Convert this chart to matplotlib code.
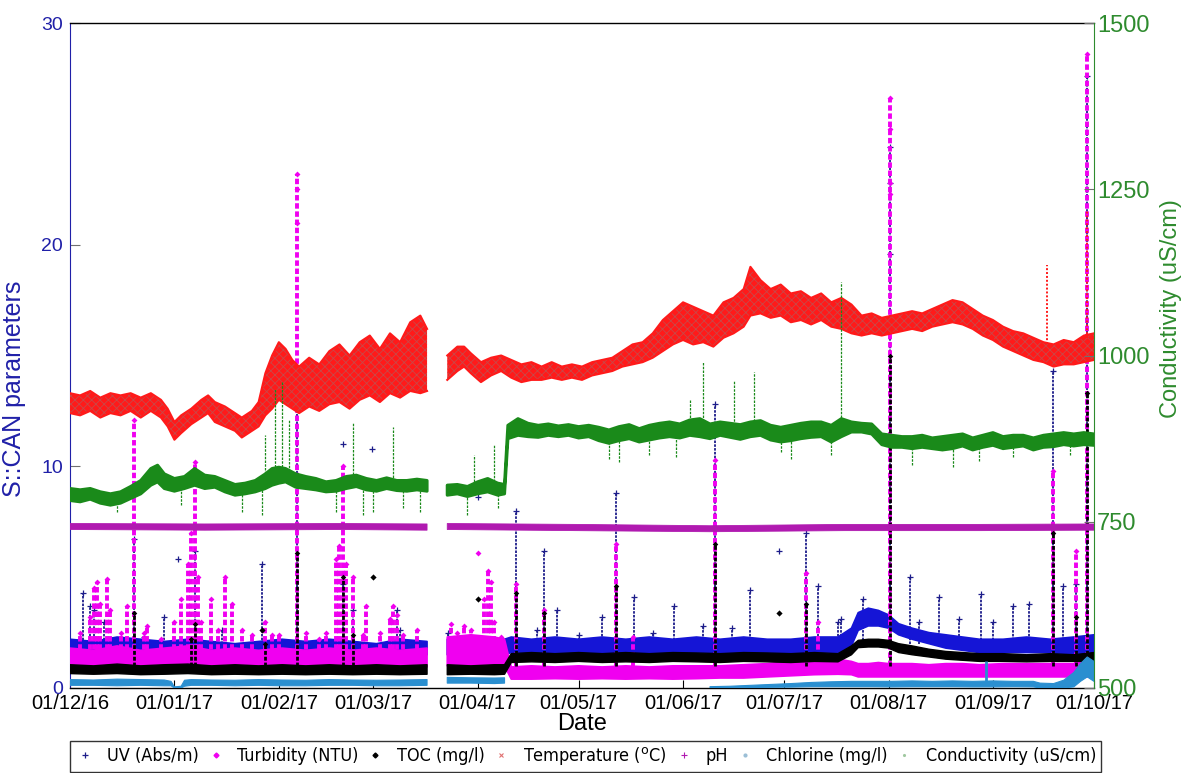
import numpy as np
import pandas as pd
import matplotlib
matplotlib.use('Agg')
import matplotlib.pyplot as plt
import matplotlib.dates as mdates
from matplotlib.lines import Line2D

# ---------------- data (x = days since 01/12/2016) ----------------
START = pd.Timestamp('2016-12-01')

# Temperature band (deg C), lo / hi
temp_days = [0, 3, 6, 9, 12, 15, 18, 21, 24, 27, 29, 31, 33, 36, 39, 41, 43, 46, 49, 51, 54, 56, 58,
             60, 62, 64, 66, 68, 71, 74, 77, 80, 83, 86, 89, 92, 95, 98, 101, 104, 106, 109,
             112, 115, 117, 119, 122, 125, 128, 131, 134, 137, 140, 143, 146, 149, 152, 155, 158,
             161, 164, 167, 170, 173, 176, 179, 182, 185, 188, 191, 194, 197, 200, 202, 205, 208,
             211, 214, 217, 220, 223, 226, 229, 232, 235, 238, 241, 244, 247, 250, 253, 256, 259,
             262, 265, 268, 271, 274, 277, 280, 283, 286, 289, 292, 295, 298, 301, 304]
temp_lo = [12.4, 12.3, 12.5, 12.2, 12.4, 12.3, 12.5, 12.2, 12.5, 12.2, 11.8, 11.2, 11.5, 11.9, 12.2,
           12.4, 12.0, 11.8, 11.6, 11.3, 11.6, 11.8, 12.3, 12.6, 13.0, 12.8, 12.6, 12.4, 12.7, 12.5,
           12.8, 12.9, 12.6, 13.0, 13.2, 12.9, 13.3, 13.1, 13.4, 13.3, 13.4, np.nan,
           13.9, 14.3, 14.5, 14.2, 13.8, 14.1, 14.3, 14.0, 13.8, 13.9, 13.9, 14.0, 13.9, 14.0, 13.9,
           14.1, 14.2, 14.3, 14.5, 14.6, 14.7, 14.9, 15.2, 15.5, 15.7, 15.5, 15.6, 15.4, 15.8, 16.0,
           16.3, 16.8, 16.9, 16.7, 16.8, 16.5, 16.6, 16.4, 16.6, 16.3, 16.2, 16.0, 15.9, 16.0, 15.9,
           16.0, 16.1, 16.2, 16.1, 16.3, 16.4, 16.5, 16.4, 16.2, 15.9, 15.7, 15.4, 15.2, 15.0, 14.8,
           14.7, 14.5, 14.6, 14.6, 14.7, 14.8]
temp_hi = [13.3, 13.2, 13.4, 13.1, 13.3, 13.2, 13.3, 13.1, 13.3, 13.0, 12.6, 12.0, 12.3, 12.6, 13.0,
           13.2, 12.9, 12.7, 12.4, 12.2, 12.5, 12.9, 14.2, 15.0, 15.6, 15.3, 14.8, 14.5, 14.9, 14.6,
           15.2, 15.5, 15.0, 15.6, 15.9, 15.3, 16.0, 15.6, 16.5, 16.8, 16.2, np.nan,
           15.0, 15.4, 15.4, 15.1, 14.7, 14.9, 15.0, 14.8, 14.6, 14.7, 14.5, 14.7, 14.5, 14.6, 14.5,
           14.7, 14.8, 14.9, 15.2, 15.5, 15.6, 16.0, 16.6, 17.0, 17.4, 17.2, 17.0, 16.8, 17.4, 17.6,
           18.0, 19.0, 18.4, 18.0, 18.2, 17.8, 17.9, 17.6, 17.8, 17.4, 17.6, 17.3, 16.8, 16.9, 16.7,
           16.8, 16.9, 17.0, 16.9, 17.1, 17.3, 17.5, 17.4, 17.1, 16.8, 16.6, 16.3, 16.1, 16.0, 15.8,
           15.6, 15.5, 15.7, 15.6, 15.9, 16.0]
temp_spk_day = [290, 302]
temp_spk_lo = [15.5, 15.8]
temp_spk_hi = [19.1, 21.5]

# Shared knots for UV / TOC / turbidity bands
wk_days = [0, 7, 14, 21, 28, 35, 42, 49, 56, 63, 70, 77, 84, 91, 98, 106, 109, 112, 119, 126,
           129, 131, 137, 144, 151, 158, 165, 172, 179, 186, 193, 200, 207, 214, 221, 228, 232, 234,
           237, 240, 243, 246, 250, 255, 260, 265, 270, 277, 284, 291, 298, 304]
uv_lo = [1.5, 1.4, 1.5, 1.5, 1.4, 1.5, 1.4, 1.3, 1.4, 1.4, 1.4, 1.5, 1.4, 1.4, 1.5, 1.5, np.nan, 1.5,
         1.5, 1.5, 1.5, 1.6, 1.6, 1.6, 1.5, 1.6, 1.6, 1.5, 1.6, 1.6, 1.6, 1.5, 1.6, 1.5, 1.6, 1.6, 1.9,
         2.6, 2.8, 2.8, 2.7, 2.4, 2.2, 2.0, 1.8, 1.7, 1.6, 1.6, 1.6, 1.6, 1.5, 1.6]
uv_hi = [2.2, 2.1, 2.3, 2.2, 2.1, 2.2, 2.1, 2.0, 2.1, 2.2, 2.1, 2.2, 2.1, 2.0, 2.2, 2.1, np.nan, 2.2,
         2.1, 2.2, 2.2, 2.3, 2.2, 2.3, 2.2, 2.3, 2.2, 2.3, 2.2, 2.3, 2.2, 2.3, 2.2, 2.2, 2.3, 2.3, 2.7,
         3.4, 3.6, 3.5, 3.3, 2.9, 2.7, 2.5, 2.4, 2.3, 2.2, 2.2, 2.3, 2.2, 2.3, 2.4]
toc_lo = [0.65, 0.62, 0.65, 0.6, 0.62, 0.65, 0.6, 0.62, 0.6, 0.62, 0.6, 0.62, 0.6, 0.62, 0.6, 0.62,
          np.nan, 0.6, 0.62, 0.6, 0.62, 1.15, 1.18, 1.15, 1.2, 1.15, 1.18, 1.15, 1.2, 1.18, 1.15, 1.2,
          1.18, 1.15, 1.2, 1.18, 1.5, 1.82, 1.85, 1.85, 1.8, 1.6, 1.5, 1.4, 1.3, 1.25, 1.2, 1.2, 1.18,
          1.2, 1.2, 1.2]
toc_hi = [1.05, 1.0, 1.08, 1.0, 1.05, 1.08, 1.0, 1.05, 1.0, 1.05, 1.0, 1.05, 1.0, 1.05, 1.0, 1.05,
          np.nan, 1.05, 1.0, 1.05, 1.05, 1.55, 1.6, 1.55, 1.6, 1.55, 1.6, 1.55, 1.6, 1.58, 1.55, 1.6,
          1.58, 1.55, 1.6, 1.55, 1.9, 2.15, 2.2, 2.2, 2.15, 2.0, 1.9, 1.75, 1.65, 1.6, 1.55, 1.55, 1.5,
          1.55, 1.5, 1.6]
turb_lo = [0.9, 0.95, 0.9, 0.95, 0.9, 0.95, 0.9, 0.95, 0.9, 0.95, 0.9, 0.95, 0.9, 0.95, 0.9, 0.95,
           np.nan, 1.0, 1.0, 1.05, 1.0, 0.4, 0.4, 0.42, 0.4, 0.42, 0.4, 0.42, 0.4, 0.42, 0.45, 0.45,
           0.5, 0.55, 0.6, 0.62, 0.6, 0.5, 0.5, 0.5, 0.5, 0.5, 0.5, 0.5, 0.5, 0.5, 0.5, 0.5, 0.5, 0.5,
           0.5, 0.5]
turb_hi = [1.8, 1.7, 1.9, 1.7, 1.8, 1.9, 1.7, 1.8, 1.7, 1.8, 1.7, 1.8, 1.7, 1.8, 1.7, 1.8, np.nan,
           2.3, 2.4, 2.3, 2.2, 0.95, 1.0, 0.95, 1.0, 0.95, 1.0, 0.95, 1.0, 1.0, 1.0, 1.05, 1.1, 1.2,
           1.25, 1.3, 1.2, 1.1, 1.1, 1.15, 1.1, 1.1, 1.1, 1.05, 1.1, 1.1, 1.05, 1.1, 1.1, 1.1, 1.1, 1.3]

# Spike events (day, top value)
uv_spk_day = [4, 6, 7, 10, 19, 22, 28, 37, 45, 57, 67.5, 81, 84, 97, 98,
              112.3, 132.5, 138.7, 140.7, 144.6, 151, 158, 162, 167.3, 173, 179.3, 188, 191.6, 196.6,
              202, 218.5, 222, 228, 228.8, 235.4, 243.5, 249.3, 252, 258, 264, 270.4, 274, 280,
              284.7, 291.8, 294.8, 298.7, 302]
uv_spk_top = [4.3, 3.7, 3.5, 3.0, 6.7, 2.3, 3.2, 6.2, 2.6, 5.6, 12.6, 4.7, 3.5, 3.5, 2.6,
              2.5, 8.0, 2.6, 6.2, 3.5, 2.4, 3.2, 8.8, 4.1, 2.5, 3.7, 2.8, 12.8, 2.7,
              4.4, 7.0, 4.6, 3.0, 3.1, 4.0, 24.4, 5.0, 3.0, 4.1, 3.1, 4.25, 3.0, 3.7,
              3.8, 14.3, 4.6, 4.7, 27.6]
uv_pt_day = [32, 81, 89.8, 121, 210.5, 243.5, 243.5]
uv_pt_val = [5.8, 11.0, 10.8, 8.6, 6.2, 22.8, 19.6]

turb_spk_day = [3, 6, 7, 8, 9, 11, 12, 15, 17, 19, 22, 23, 27, 31, 33, 35, 36, 37, 38, 39,
                42, 44, 46, 48, 51, 54, 58, 60, 62, 67.5, 70, 74, 76, 79, 80, 81, 82, 84, 87, 88,
                92, 95, 96, 97, 99, 103, 113, 115, 117, 119, 123, 124, 125, 126, 128, 132.5,
                140.7, 162, 167, 191.6, 218.5, 222, 243.5, 291.8, 298.7, 302]
turb_spk_top = [2.5, 3.2, 4.5, 4.8, 3.8, 4.9, 3.5, 2.5, 3.7, 12.1, 2.5, 2.8, 2.2, 3.0, 4.0, 5.6,
                7.0, 10.2, 5.0, 3.0, 4.0, 2.6, 5.0, 3.8, 2.6, 2.4, 3.0, 2.4, 2.4, 23.2, 2.5, 2.2,
                2.5, 5.8, 6.4, 10.0, 5.6, 5.0, 2.4, 3.7, 2.5, 3.1, 3.7, 3.3, 2.4, 2.6, 2.9, 2.5,
                2.8, 2.6, 4.0, 5.3, 4.8, 3.0, 2.3, 4.7, 3.5, 6.5, 2.3, 10.3, 5.2, 3.0, 26.6, 9.8,
                6.2, 28.6]
turb_pt_day = [121, 243.5, 243.5, 243.5, 67.5, 67.5]
turb_pt_val = [6.1, 25.2, 22.8, 22.3, 22.5, 21.0]

toc_spk_day = [19, 36, 37, 58, 67.5, 81, 84, 132.5, 140.7, 162, 191.6, 218.5, 243.5, 291.8, 298.7, 302]
toc_spk_top = [3.4, 2.2, 2.9, 2.0, 6.1, 5.0, 2.4, 4.3, 3.4, 4.6, 6.5, 3.8, 15.0, 7.0, 3.2, 13.3]
toc_pt_day = [57, 90, 121, 210.5]
toc_pt_val = [2.6, 5.0, 4.0, 3.4]

# pH band
ph_days = [0, 40, 80, 106, 109, 112, 150, 190, 230, 270, 304]
ph_lo = [7.15, 7.12, 7.15, 7.12, np.nan, 7.15, 7.10, 7.05, 7.10, 7.10, 7.12]
ph_hi = [7.42, 7.40, 7.42, 7.40, np.nan, 7.42, 7.38, 7.32, 7.38, 7.38, 7.40]

# Chlorine band (mg/l)
cl_days = [0, 7, 14, 21, 28, 30, 31, 33, 34, 36, 42, 49, 56, 63, 70, 77, 84, 91, 98, 106, 109,
           112, 119, 126, 129, 131, 190, 196, 202, 208, 214, 220, 226, 232, 238, 244, 250, 256,
           262, 268, 274, 280, 286, 288, 292, 295, 298, 300, 302, 304]
cl_lo = [0.12, 0.12, 0.10, 0.12, 0.10, 0.10, 0.0, 0.0, 0.08, 0.12, 0.12, 0.10, 0.12, 0.10, 0.10,
         0.12, 0.12, 0.10, 0.10, 0.12, np.nan, 0.22, 0.22, 0.20, 0.22, np.nan, 0.0, 0.0, 0.02, 0.03,
         0.04, 0.06, 0.06, 0.06, 0.06, 0.05, 0.06, 0.06, 0.06, 0.05, 0.05, 0.06, 0.05, 0.0, 0.0, 0.0,
         0.05, 0.3, 0.5, 0.3]
cl_hi = [0.38, 0.36, 0.40, 0.38, 0.36, 0.30, 0.05, 0.08, 0.35, 0.38, 0.36, 0.35, 0.38, 0.36, 0.35,
         0.38, 0.36, 0.35, 0.36, 0.38, np.nan, 0.48, 0.46, 0.45, 0.46, np.nan, 0.06, 0.08, 0.12, 0.16,
         0.20, 0.25, 0.28, 0.30, 0.30, 0.30, 0.32, 0.30, 0.32, 0.30, 0.32, 0.30, 0.30, 0.22, 0.20,
         0.35, 0.70, 1.10, 1.40, 1.20]
cl_spk_day = [272]
cl_spk_top = [1.2]

# Conductivity band (uS/cm)
cond_days = [0, 3, 6, 9, 12, 15, 18, 21, 24, 26, 28, 31, 34, 37, 40, 43, 46, 49, 52, 55, 58, 60,
             62, 64, 67, 70, 73, 76, 79, 82, 85, 88, 91, 94, 97, 100, 103, 106, 109,
             112, 115, 118, 121, 124, 127, 129, 130, 133, 136, 139, 142, 145, 148, 151, 154, 157,
             160, 163, 166, 169, 172, 175, 178, 181, 184, 187, 190, 193, 196, 199, 202, 205, 208,
             211, 214, 217, 220, 223, 226, 229, 232, 235, 238, 241, 244, 247, 250, 253, 256, 259,
             262, 265, 268, 271, 274, 277, 280, 283, 286, 289, 292, 295, 298, 301, 304]
cond_lo = [782, 780, 784, 778, 775, 778, 785, 792, 805, 810, 800, 796, 800, 805, 800, 802, 795, 790,
           792, 795, 800, 805, 808, 810, 802, 800, 798, 795, 796, 800, 803, 798, 796, 800, 797, 796,
           798, 796, np.nan,
           790, 792, 788, 792, 795, 790, 792, 875, 880, 878, 877, 880, 878, 880, 876, 878, 872,
           868, 872, 875, 870, 873, 876, 878, 876, 880, 878, 875, 880, 877, 874, 878, 880, 873,
           870, 872, 875, 877, 878, 870, 878, 885, 885, 882, 866, 862, 862, 860, 862, 860, 858,
           860, 864, 858, 862, 865, 860, 862, 864, 858, 862, 863, 866, 864, 866, 865]
cond_hi = [800, 798, 800, 795, 792, 795, 803, 812, 830, 835, 822, 815, 818, 830, 820, 818, 812, 806,
           808, 812, 822, 830, 832, 830, 822, 818, 815, 810, 812, 818, 820, 815, 812, 816, 812, 812,
           814, 812, np.nan,
           805, 806, 803, 810, 815, 808, 806, 895, 905, 898, 895, 897, 894, 896, 893, 895, 892,
           888, 893, 896, 890, 895, 898, 900, 897, 903, 905, 897, 900, 898, 896, 900, 902, 895,
           892, 895, 898, 900, 900, 895, 905, 900, 898, 897, 882, 880, 878, 878, 880, 876, 878,
           880, 882, 876, 880, 884, 878, 880, 880, 876, 880, 882, 884, 882, 884, 882]
cond_spk_day = [58, 61, 63, 65, 84, 96, 120, 126, 184, 188, 197, 203, 229,
                14, 33, 51, 57, 79, 87, 90, 99, 104, 118, 127, 160, 163, 172, 180, 211, 214, 226,
                250, 262, 270, 280, 297]
cond_spk_lo = [805, 810, 810, 815, 810, 805, 800, 800, 895, 895, 895, 895, 895,
               765, 775, 765, 760, 765, 760, 765, 770, 765, 760, 770, 845, 840, 850, 848, 855, 845,
               850, 835, 832, 842, 848, 850]
cond_spk_hi = [880, 950, 962, 905, 898, 893, 850, 867, 935, 990, 962, 975, 1110,
               780, 800, 795, 800, 800, 800, 800, 800, 800, 795, 795, 875, 875, 875, 880, 875, 875,
               875, 862, 862, 862, 862, 866]

tick_dates = ['2016-12-01', '2017-01-01', '2017-02-01', '2017-03-01', '2017-04-01', '2017-05-01',
              '2017-06-01', '2017-07-01', '2017-08-01', '2017-09-01', '2017-10-01']
left_ticks = [0, 10, 20, 30]
right_ticks = [500, 750, 1000, 1250, 1500]
legend_labels = ['UV (Abs/m)', 'Turbidity (NTU)', 'TOC (mg/l)', 'Temperature ($^{\\rm o}$C)', 'pH',
                 'Chlorine (mg/l)', 'Conductivity (uS/cm)']

# ---------------- helpers ----------------
def d(days):
    return START + pd.to_timedelta(np.asarray(days, dtype=float), unit='D')

# colours
C_UV = '#1515d6'
C_UV_DARK = '#1d1d8a'
C_TURB = '#f000f0'
C_TOC = '#000000'
C_TEMP = '#ff1a1a'
C_PH = '#b01ab0'
C_CL = '#2a8fd0'
C_COND = '#1a8a1a'
C_LEFT = '#2020a8'
C_RIGHT = '#2e8b2e'

plt.rcParams['font.family'] = ['Liberation Sans', 'DejaVu Sans']
plt.rcParams['hatch.linewidth'] = 0.6

W, H = 1188, 773
fig = plt.figure(figsize=(W / 100, H / 100), dpi=100)
ax = fig.add_axes([70 / W, 1 - 688 / H, (1094 - 70) / W, (688 - 23) / H])
ax2 = ax.twinx()

col_dash = (0, (1.4, 0.7))

# UV
ax.vlines(d(uv_spk_day), 2.0, uv_spk_top, colors=C_UV_DARK, lw=1.3, linestyles=col_dash, zorder=2)
ax.scatter(d(uv_spk_day), uv_spk_top, marker='+', s=22, color=C_UV_DARK, lw=0.9, zorder=2)
ax.scatter(d(uv_pt_day), uv_pt_val, marker='+', s=22, color=C_UV_DARK, lw=0.9, zorder=2)
ax.fill_between(d(wk_days), uv_lo, uv_hi, color=C_UV, lw=1.2, zorder=3)

# Turbidity
ax.vlines(d(turb_spk_day), 1.0, turb_spk_top, colors=C_TURB, lw=2.8, linestyles=col_dash, zorder=4)
ax.scatter(d(turb_spk_day), turb_spk_top, marker='D', s=9, color=C_TURB, lw=0, zorder=4)
ax.scatter(d(turb_pt_day), turb_pt_val, marker='D', s=9, color=C_TURB, lw=0, zorder=4)
ax.fill_between(d(wk_days), turb_lo, turb_hi, color=C_TURB, lw=1.2, zorder=5)

# TOC
ax.vlines(d(toc_spk_day), 1.0, toc_spk_top, colors=C_TOC, lw=2.0, linestyles=col_dash, zorder=6)
ax.scatter(d(toc_spk_day), toc_spk_top, marker='D', s=8, color=C_TOC, lw=0, zorder=6)
ax.scatter(d(toc_pt_day), toc_pt_val, marker='D', s=10, color=C_TOC, lw=0, zorder=6)
ax.fill_between(d(wk_days), toc_lo, toc_hi, color=C_TOC, lw=1.0, zorder=7)

# Temperature
ax.fill_between(d(temp_days), temp_lo, temp_hi, facecolor=C_TEMP, edgecolor='#c84848',
                hatch='xxxx', lw=0, zorder=8)
ax.plot(d(temp_days), temp_lo, color=C_TEMP, lw=1.5, zorder=8)
ax.plot(d(temp_days), temp_hi, color=C_TEMP, lw=1.5, zorder=8)
ax.vlines(d(temp_spk_day), temp_spk_lo, temp_spk_hi, colors=C_TEMP, lw=1.4,
          linestyles=(0, (1, 1)), zorder=8)

# pH
ax.fill_between(d(ph_days), ph_lo, ph_hi, color=C_PH, lw=0.6, zorder=9)

# Chlorine
ax.fill_between(d(cl_days), cl_lo, cl_hi, color=C_CL, lw=0.8, zorder=10)
ax.vlines(d(cl_spk_day), 0.2, cl_spk_top, colors=C_CL, lw=2.0, zorder=10)

# Conductivity (right axis)
ax2.fill_between(d(cond_days), cond_lo, cond_hi, color=C_COND, lw=2.2, zorder=3)
ax2.vlines(d(cond_spk_day), cond_spk_lo, cond_spk_hi, colors=C_COND, lw=0.9,
           linestyles=(0, (2, 1)), zorder=3)

# ---------------- axes styling ----------------
ax.set_xlim(pd.Timestamp('2016-12-01'), pd.Timestamp('2017-10-01'))
ax.set_ylim(0, 30)
ax2.set_ylim(500, 1500)

ax.set_xticks(pd.to_datetime(tick_dates))
ax.xaxis.set_major_formatter(mdates.DateFormatter('%d/%m/%y'))
ax.set_yticks(left_ticks)
ax2.set_yticks(right_ticks)

ax.tick_params(axis='x', direction='in', length=6, width=0.8, labelsize=14.5, pad=4,
               colors='black', labelcolor='black')
ax.tick_params(axis='y', direction='in', length=7, width=0.8, labelsize=14, pad=5,
               color='#707070', labelcolor=C_LEFT)
ax2.tick_params(axis='y', direction='in', length=7, width=0.8, labelsize=17, pad=2,
                color='#707070', labelcolor=C_RIGHT)

for s in ['top', 'bottom']:
    ax.spines[s].set_color('black')
    ax.spines[s].set_linewidth(1.0)
ax.spines['left'].set_color(C_LEFT)
ax.spines['right'].set_visible(False)
for s in ['top', 'bottom', 'left']:
    ax2.spines[s].set_visible(False)
ax2.spines['right'].set_color(C_RIGHT)

ax.set_ylabel('S::CAN parameters', color=C_LEFT, fontsize=18)
ax.yaxis.set_label_coords(-0.043, 0.45)
ax2.set_ylabel('Conductivity (uS/cm)', color=C_RIGHT, fontsize=17)
ax2.yaxis.set_label_coords(1.064, 0.57)
ax.set_xlabel('Date', fontsize=17, labelpad=0)

# ---------------- legend ----------------
handles = [
    Line2D([], [], ls='', marker='+', color=C_UV_DARK, markersize=5, mew=0.9),
    Line2D([], [], ls='', marker='D', color=C_TURB, markersize=2.5),
    Line2D([], [], ls='', marker='D', color=C_TOC, markersize=2.5),
    Line2D([], [], ls='', marker='x', color='#e07070', markersize=3.5, mew=0.8),
    Line2D([], [], ls='', marker='+', color=C_PH, markersize=4, mew=0.8),
    Line2D([], [], ls='', marker='.', color='#9bbfd6', markersize=4),
    Line2D([], [], ls='', marker='.', color='#a0c8a0', markersize=2.5),
]
leg = fig.legend(handles, legend_labels, loc='lower left',
                 bbox_to_anchor=(70 / W, 1 - 772 / H, (1101 - 70) / W, 23 / H),
                 mode='expand', ncol=7, frameon=True, fancybox=False, edgecolor='black',
                 prop={'family': ['DejaVu Sans'], 'stretch': 'condensed', 'size': 13},
                 handlelength=1.2, handletextpad=0.6, borderpad=0.25, borderaxespad=0,
                 columnspacing=0.8)
leg.get_frame().set_linewidth(1.0)

fig.savefig('out.png', dpi=100)
